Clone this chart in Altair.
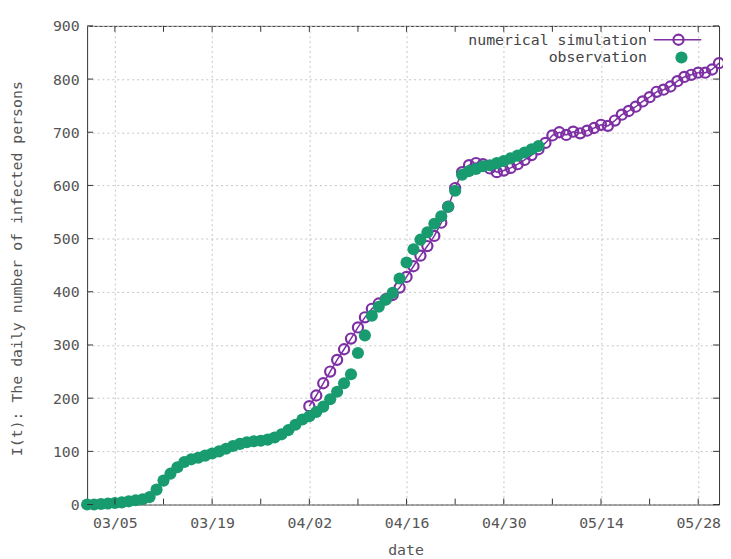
import altair as alt
import pandas as pd

# ---------------- data ----------------
obs_start = "2020-03-01"
obs_values = [0, 0, 1, 2, 3, 4, 6, 8, 10, 14,
              28, 45, 58, 70, 80, 85, 88, 92, 96, 100,
              105, 110, 114, 117, 119, 120, 122, 126, 132, 140,
              150, 160, 166, 174, 184, 198, 212, 228, 245, 285,
              318, 355, 372, 385, 398, 425, 455, 480, 498, 512,
              528, 542, 560, 590, 620, 627, 631, 636, 638, 642,
              646, 651, 656, 662, 668, 674]

sim_start = "2020-04-02"
sim_values = [185, 205, 228, 250, 272, 292, 312, 333, 352, 368,
              378, 386, 394, 408, 428, 448, 468, 486, 505, 530,
              560, 595, 625, 638, 642, 640, 632, 625, 628, 633,
              640, 648, 657, 668, 680, 694, 700, 695, 701, 698,
              703, 708, 714, 712, 722, 733, 740, 748, 758, 766,
              776, 780, 786, 796, 804, 808, 812, 812, 818, 830]

x_domain = ["2020-03-01", "2020-05-31"]
x_major = ["2020-03-05", "2020-03-19", "2020-04-02", "2020-04-16",
           "2020-04-30", "2020-05-14", "2020-05-28"]
x_minor = ["2020-03-12", "2020-03-26", "2020-04-09", "2020-04-23",
           "2020-05-07", "2020-05-21"]
y_ticks = [0, 100, 200, 300, 400, 500, 600, 700, 800, 900]
legend_labels = ["numerical simulation", "observation"]

# ---------------- styling ----------------
PURPLE = "#7d2fa3"
GREEN = "#179b6f"
TEXT = "#555555"
FONT = "DejaVu Sans Mono"
W, H = 639, 484


def day_list(start, n):
    return [d.strftime("%Y-%m-%d") for d in pd.date_range(start, periods=n, freq="D")]


def dt(s):
    y, m, d = (int(p) for p in s.split("-"))
    return alt.DateTime(year=y, month=m, date=d, utc=True)


obs_df = pd.DataFrame({"date": day_list(obs_start, len(obs_values)), "value": obs_values})
sim_df = pd.DataFrame({"date": day_list(sim_start, len(sim_values)), "value": sim_values})
allx_df = pd.DataFrame({"date": x_major + x_minor})
y_df = pd.DataFrame({"v": y_ticks})

x_scale = alt.Scale(type="utc", domain=[dt(x_domain[0]), dt(x_domain[1])])
y_scale = alt.Scale(domain=[0, 900], nice=False)

x_axis = alt.Axis(
    values=[dt(s) for s in x_major],
    labelExpr="utcFormat(datum.value, '%m/%d')",
    title="date", grid=True, gridDash=[2, 3], gridColor="#c4c4c4",
    ticks=False, tickSize=0, domain=False, labelPadding=11,
    labelFont=FONT, labelFontSize=15, labelColor=TEXT,
    titleFont=FONT, titleFontSize=15, titleFontWeight="normal", titleColor=TEXT,
    titleX=322, titleY=46, titleBaseline="middle",
)
y_axis = alt.Axis(
    values=y_ticks, title="I(t): The daily number of infected persons",
    grid=True, gridDash=[2, 3], gridColor="#c4c4c4",
    ticks=False, tickSize=0, domain=False, labelPadding=8,
    labelFont=FONT, labelFontSize=15, labelColor=TEXT,
    titleFont=FONT, titleFontSize=15, titleFontWeight="normal", titleColor=TEXT,
    titleX=-71, titleY=245, titleAngle=270, titleAlign="center", titleBaseline="middle",
)


def X(field="date:T"):
    return alt.X(field, scale=x_scale, axis=x_axis)


def Y(field="value:Q"):
    return alt.Y(field, scale=y_scale, axis=y_axis)


sim_line = alt.Chart(sim_df).mark_line(color=PURPLE, strokeWidth=1.5).encode(x=X(), y=Y())
sim_pts = alt.Chart(sim_df).mark_point(
    shape="circle", filled=False, color=PURPLE, strokeWidth=2.2, size=105, opacity=1
).encode(x=X(), y=Y())
obs_pts = alt.Chart(obs_df).mark_circle(color=GREEN, size=150, opacity=1).encode(x=X(), y=Y())

# inward tick marks (gnuplot style, mirrored)
xt_bottom = alt.Chart(allx_df).mark_rule(color="#333", strokeWidth=1).encode(
    x=X(), y=alt.value(H), y2=alt.value(H - 6))
xt_top = alt.Chart(allx_df).mark_rule(color="#333", strokeWidth=1).encode(
    x=X(), y=alt.value(0), y2=alt.value(6))
yt_left = alt.Chart(y_df).mark_rule(color="#333", strokeWidth=1).encode(
    y=Y("v:Q"), x=alt.value(0), x2=alt.value(6))
yt_right = alt.Chart(y_df).mark_rule(color="#333", strokeWidth=1).encode(
    y=Y("v:Q"), x=alt.value(W), x2=alt.value(W - 6))

# legend (gnuplot style: text, then sample)
leg_df1 = pd.DataFrame({"label": [legend_labels[0]]})
leg_df2 = pd.DataFrame({"label": [legend_labels[1]]})
leg_t1 = alt.Chart(leg_df1).mark_text(
    align="right", baseline="middle", font=FONT, fontSize=15, color="#444"
).encode(x=alt.value(566), y=alt.value(14), text="label:N")
leg_t2 = alt.Chart(leg_df2).mark_text(
    align="right", baseline="middle", font=FONT, fontSize=15, color="#444"
).encode(x=alt.value(566), y=alt.value(32), text="label:N")
leg_line = alt.Chart(leg_df1).mark_rule(color=PURPLE, strokeWidth=1.5).encode(
    x=alt.value(573), x2=alt.value(621), y=alt.value(14))
leg_circ = alt.Chart(leg_df1).mark_point(
    shape="circle", filled=False, color=PURPLE, strokeWidth=2.2, size=105, opacity=1
).encode(x=alt.value(598), y=alt.value(14))
leg_dot = alt.Chart(leg_df2).mark_circle(color=GREEN, size=150, opacity=1).encode(
    x=alt.value(601), y=alt.value(32))

chart = alt.layer(
    sim_line, sim_pts, obs_pts,
    xt_bottom, xt_top, yt_left, yt_right,
    leg_t1, leg_t2, leg_line, leg_circ, leg_dot,
).properties(
    width=W, height=H,
    autosize=alt.AutoSizeParams(type="none"),
    padding={"left": 80, "top": 15, "right": 4, "bottom": 52},
    background="white",
).configure_view(stroke="#333333", strokeWidth=1)

chart.save("out.html", embed_options={"renderer": "svg", "actions": False})
